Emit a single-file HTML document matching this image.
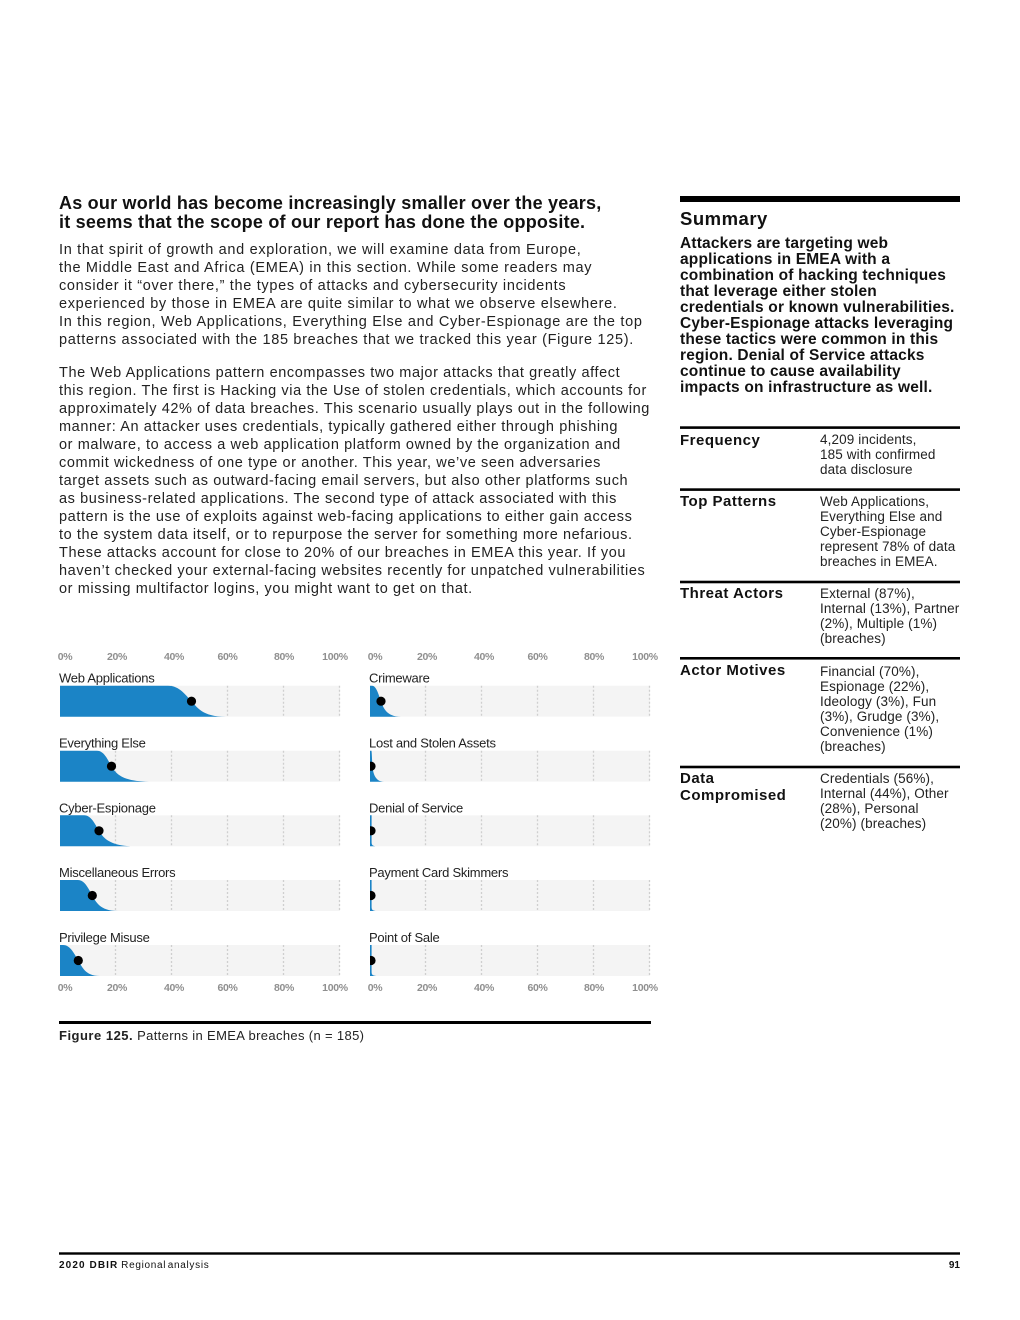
<!DOCTYPE html>
<html>
<head>
<meta charset="utf-8">
<style>
  html,body{margin:0;padding:0;background:#fff;}
  #page{position:relative;width:1020px;height:1320px;overflow:hidden;background:#fff;font-family:"Liberation Sans",Arial,sans-serif;color:#1d1d1b;}
  .abs{position:absolute;white-space:nowrap;}
  .h1{left:59px;top:193.7px;font-size:18px;line-height:19px;font-weight:bold;letter-spacing:0.22px;color:#111;}
  .body{left:59px;font-size:14.5px;line-height:18px;letter-spacing:0.68px;color:#222;}
  .sumt{left:680px;top:208.6px;font-size:18.5px;line-height:20px;font-weight:bold;letter-spacing:0.5px;color:#111;}
  .sumb{left:680px;top:235.5px;font-size:15.5px;line-height:16px;font-weight:bold;letter-spacing:0.18px;color:#111;}
  .tl{left:680px;font-size:15px;line-height:16.5px;font-weight:bold;letter-spacing:0.5px;color:#111;}
  .tv{left:820px;font-size:13.5px;line-height:15px;letter-spacing:0.12px;color:#222;}
  .cap{left:59px;top:1027.5px;font-size:13px;line-height:16px;letter-spacing:0.35px;color:#222;}
  .foot{top:1259.5px;font-size:10px;line-height:12px;color:#111;}
</style>
</head>
<body>
<div id="page">

<div class="abs h1">As our world has become increasingly smaller over the years,<br>it seems that the scope of our report has done the opposite.</div>

<div class="abs body" style="top:241px;">In that spirit of growth and exploration, we will examine data from Europe,<br>the Middle East and Africa (EMEA) in this section. While some readers may<br>consider it “over there,” the types of attacks and cybersecurity incidents<br>experienced by those in EMEA are quite similar to what we observe elsewhere.<br>In this region, Web Applications, Everything Else and Cyber-Espionage are the top<br>patterns associated with the 185 breaches that we tracked this year (Figure 125).</div>

<div class="abs body" style="top:363.5px;letter-spacing:0.6px;">The Web Applications pattern encompasses two major attacks that greatly affect<br>this region. The first is Hacking via the Use of stolen credentials, which accounts for<br>approximately 42% of data breaches. This scenario usually plays out in the following<br>manner: An attacker uses credentials, typically gathered either through phishing<br>or malware, to access a web application platform owned by the organization and<br>commit wickedness of one type or another. This year, we’ve seen adversaries<br>target assets such as outward-facing email servers, but also other platforms such<br>as business-related applications. The second type of attack associated with this<br>pattern is the use of exploits against web-facing applications to either gain access<br>to the system data itself, or to repurpose the server for something more nefarious.<br>These attacks account for close to 20% of our breaches in EMEA this year. If you<br>haven’t checked your external-facing websites recently for unpatched vulnerabilities<br>or missing multifactor logins, you might want to get on that.</div>

<div class="abs sumt">Summary</div>
<div class="abs sumb">Attackers are targeting web<br>applications in EMEA with a<br>combination of hacking techniques<br>that leverage either stolen<br>credentials or known vulnerabilities.<br>Cyber-Espionage attacks leveraging<br>these tactics were common in this<br>region. Denial of Service attacks<br>continue to cause availability<br>impacts on infrastructure as well.</div>

<div class="abs tl" style="top:432.5px;">Frequency</div>
<div class="abs tv" style="top:432px;">4,209 incidents,<br>185 with confirmed<br>data disclosure</div>

<div class="abs tl" style="top:494.1px;">Top Patterns</div>
<div class="abs tv" style="top:494.3px;">Web Applications,<br>Everything Else and<br>Cyber-Espionage<br>represent 78% of data<br>breaches in EMEA.</div>

<div class="abs tl" style="top:586.3px;">Threat Actors</div>
<div class="abs tv" style="top:585.8px;">External (87%),<br>Internal (13%), Partner<br>(2%), Multiple (1%)<br>(breaches)</div>

<div class="abs tl" style="top:663.3px;">Actor Motives</div>
<div class="abs tv" style="top:664px;">Financial (70%),<br>Espionage (22%),<br>Ideology (3%), Fun<br>(3%), Grudge (3%),<br>Convenience (1%)<br>(breaches)</div>

<div class="abs tl" style="top:771.3px;">Data<br>Compromised</div>
<div class="abs tv" style="top:771px;">Credentials (56%),<br>Internal (44%), Other<br>(28%), Personal<br>(20%) (breaches)</div>

<div class="abs cap"><b style="letter-spacing:0.5px;">Figure 125.</b> Patterns in EMEA breaches (n = 185)</div>

<div class="abs foot" style="left:59px;"><b style="letter-spacing:1.1px;">2020 DBIR</b> <span style="letter-spacing:0.7px;word-spacing:-2px;">Regional analysis</span></div>
<div class="abs foot" style="right:60px;font-weight:bold;">91</div>

<svg width="1020" height="1320" style="position:absolute;left:0;top:0;" xmlns="http://www.w3.org/2000/svg">
  <defs>
    <clipPath id="cr"><rect x="370" y="600" width="300" height="420"/></clipPath>
  </defs>

  <!-- rules -->
  <rect x="680" y="196" width="280" height="6" fill="#000"/>
  <rect x="680" y="426.3" width="280" height="2.6" fill="#000"/>
  <rect x="680" y="488.3" width="280" height="2.6" fill="#000"/>
  <rect x="680" y="580.7" width="280" height="2.6" fill="#000"/>
  <rect x="680" y="657" width="280" height="2.6" fill="#000"/>
  <rect x="680" y="765.7" width="280" height="2.6" fill="#000"/>
  <rect x="59" y="1021" width="592" height="3" fill="#000"/>
  <rect x="59" y="1252.3" width="901" height="2.4" fill="#000"/>

  <!-- axis labels -->
  <g font-family="Liberation Sans, Arial, sans-serif" font-size="10.5" font-weight="bold" fill="#8f8f8f" text-anchor="middle" letter-spacing="-0.3">
    <text x="65" y="660">0%</text><text x="117" y="660">20%</text><text x="174" y="660">40%</text><text x="227.5" y="660">60%</text><text x="284" y="660">80%</text><text x="335" y="660">100%</text>
    <text x="375" y="660">0%</text><text x="427" y="660">20%</text><text x="484" y="660">40%</text><text x="537.5" y="660">60%</text><text x="594" y="660">80%</text><text x="645" y="660">100%</text>
    <text x="65" y="991">0%</text><text x="117" y="991">20%</text><text x="174" y="991">40%</text><text x="227.5" y="991">60%</text><text x="284" y="991">80%</text><text x="335" y="991">100%</text>
    <text x="375" y="991">0%</text><text x="427" y="991">20%</text><text x="484" y="991">40%</text><text x="537.5" y="991">60%</text><text x="594" y="991">80%</text><text x="645" y="991">100%</text>
  </g>

  <!-- row labels -->
  <g font-family="Liberation Sans, Arial, sans-serif" font-size="13" fill="#222" letter-spacing="-0.25">
    <text x="59" y="682.7">Web Applications</text>
    <text x="59" y="747.5">Everything Else</text>
    <text x="59" y="812.3">Cyber-Espionage</text>
    <text x="59" y="877.2">Miscellaneous Errors</text>
    <text x="59" y="942">Privilege Misuse</text>
    <text x="369" y="682.7">Crimeware</text>
    <text x="369" y="747.5">Lost and Stolen Assets</text>
    <text x="369" y="812.3">Denial of Service</text>
    <text x="369" y="877.2">Payment Card Skimmers</text>
    <text x="369" y="942">Point of Sale</text>
  </g>

  <!-- LEFT CHART -->
  <g transform="translate(0,685.7)">
    <rect x="60" y="0" width="280" height="31" fill="#f4f4f4"/>
    <g stroke="#cfcfcf" stroke-width="1.3" stroke-dasharray="2 2"><line x1="115.5" y1="0" x2="115.5" y2="31"/><line x1="171.5" y1="0" x2="171.5" y2="31"/><line x1="227.5" y1="0" x2="227.5" y2="31"/><line x1="283.5" y1="0" x2="283.5" y2="31"/><line x1="339.5" y1="0" x2="339.5" y2="31"/></g>
    <path d="M60,0 H168 C179.75,0 185.6,9.5 191.5,15.5 C197.4,21.5 201.9,31 226,31 H60 Z" fill="#1b84c6"/>
    <circle cx="191.5" cy="15.5" r="4.6" fill="#000"/>
  </g>
  <g transform="translate(0,750.7)">
    <rect x="60" y="0" width="280" height="31" fill="#f4f4f4"/>
    <g stroke="#cfcfcf" stroke-width="1.3" stroke-dasharray="2 2"><line x1="115.5" y1="0" x2="115.5" y2="31"/><line x1="171.5" y1="0" x2="171.5" y2="31"/><line x1="227.5" y1="0" x2="227.5" y2="31"/><line x1="283.5" y1="0" x2="283.5" y2="31"/><line x1="339.5" y1="0" x2="339.5" y2="31"/></g>
    <path d="M60,0 H97 C104.25,0 107.9,9.5 111.5,15.5 C115.1,21.5 121,31 149,31 H60 Z" fill="#1b84c6"/>
    <circle cx="111.5" cy="15.5" r="4.6" fill="#000"/>
  </g>
  <g transform="translate(0,815.3)">
    <rect x="60" y="0" width="280" height="31" fill="#f4f4f4"/>
    <g stroke="#cfcfcf" stroke-width="1.3" stroke-dasharray="2 2"><line x1="115.5" y1="0" x2="115.5" y2="31"/><line x1="171.5" y1="0" x2="171.5" y2="31"/><line x1="227.5" y1="0" x2="227.5" y2="31"/><line x1="283.5" y1="0" x2="283.5" y2="31"/><line x1="339.5" y1="0" x2="339.5" y2="31"/></g>
    <path d="M60,0 H84 C91.5,0 95.25,9.5 99,15.5 C102.75,21.5 108.5,31 134,31 H60 Z" fill="#1b84c6"/>
    <circle cx="99" cy="15.5" r="4.6" fill="#000"/>
  </g>
  <g transform="translate(0,880)">
    <rect x="60" y="0" width="280" height="31" fill="#f4f4f4"/>
    <g stroke="#cfcfcf" stroke-width="1.3" stroke-dasharray="2 2"><line x1="115.5" y1="0" x2="115.5" y2="31"/><line x1="171.5" y1="0" x2="171.5" y2="31"/><line x1="227.5" y1="0" x2="227.5" y2="31"/><line x1="283.5" y1="0" x2="283.5" y2="31"/><line x1="339.5" y1="0" x2="339.5" y2="31"/></g>
    <path d="M60,0 H78 C85.15,0 88.7,9.5 92.3,15.5 C95.9,21.5 99.5,31 118,31 H60 Z" fill="#1b84c6"/>
    <circle cx="92.3" cy="15.5" r="4.6" fill="#000"/>
  </g>
  <g transform="translate(0,945)">
    <rect x="60" y="0" width="280" height="31" fill="#f4f4f4"/>
    <g stroke="#cfcfcf" stroke-width="1.3" stroke-dasharray="2 2"><line x1="115.5" y1="0" x2="115.5" y2="31"/><line x1="171.5" y1="0" x2="171.5" y2="31"/><line x1="227.5" y1="0" x2="227.5" y2="31"/><line x1="283.5" y1="0" x2="283.5" y2="31"/><line x1="339.5" y1="0" x2="339.5" y2="31"/></g>
    <path d="M60,0 H63 C70.65,0 74.5,9.5 78.3,15.5 C82.1,21.5 84.8,31 100,31 H60 Z" fill="#1b84c6"/>
    <circle cx="78.3" cy="15.5" r="4.6" fill="#000"/>
  </g>

  <!-- RIGHT CHART -->
  <g clip-path="url(#cr)">
  <g transform="translate(0,685.7)">
    <rect x="370" y="0" width="280" height="31" fill="#f4f4f4"/>
    <g stroke="#cfcfcf" stroke-width="1.3" stroke-dasharray="2 2"><line x1="425.5" y1="0" x2="425.5" y2="31"/><line x1="481.5" y1="0" x2="481.5" y2="31"/><line x1="537.5" y1="0" x2="537.5" y2="31"/><line x1="593.5" y1="0" x2="593.5" y2="31"/><line x1="649.5" y1="0" x2="649.5" y2="31"/></g>
    <path d="M370,0 H372 C376.5,0 378.75,9.5 381,15.5 C383.25,21.5 386,31 401,31 H370 Z" fill="#1b84c6"/>
    <circle cx="381" cy="15.5" r="4.6" fill="#000"/>
  </g>
  <g transform="translate(0,750.7)">
    <rect x="370" y="0" width="280" height="31" fill="#f4f4f4"/>
    <g stroke="#cfcfcf" stroke-width="1.3" stroke-dasharray="2 2"><line x1="425.5" y1="0" x2="425.5" y2="31"/><line x1="481.5" y1="0" x2="481.5" y2="31"/><line x1="537.5" y1="0" x2="537.5" y2="31"/><line x1="593.5" y1="0" x2="593.5" y2="31"/><line x1="649.5" y1="0" x2="649.5" y2="31"/></g>
    <path d="M370,0 H371.4 C371.8,0 372,9.5 372.5,15.5 C373,22 375,31 384,31 H370 Z" fill="#1b84c6"/>
    <circle cx="371" cy="15.5" r="4.6" fill="#000"/>
  </g>
  <g transform="translate(0,815.3)">
    <rect x="370" y="0" width="280" height="31" fill="#f4f4f4"/>
    <g stroke="#cfcfcf" stroke-width="1.3" stroke-dasharray="2 2"><line x1="425.5" y1="0" x2="425.5" y2="31"/><line x1="481.5" y1="0" x2="481.5" y2="31"/><line x1="537.5" y1="0" x2="537.5" y2="31"/><line x1="593.5" y1="0" x2="593.5" y2="31"/><line x1="649.5" y1="0" x2="649.5" y2="31"/></g>
    <path d="M370,0 H371.6 V27 C371.6,30 373,31 376.5,31 H370 Z" fill="#1b84c6"/>
    <circle cx="371" cy="15.5" r="4.6" fill="#000"/>
  </g>
  <g transform="translate(0,880)">
    <rect x="370" y="0" width="280" height="31" fill="#f4f4f4"/>
    <g stroke="#cfcfcf" stroke-width="1.3" stroke-dasharray="2 2"><line x1="425.5" y1="0" x2="425.5" y2="31"/><line x1="481.5" y1="0" x2="481.5" y2="31"/><line x1="537.5" y1="0" x2="537.5" y2="31"/><line x1="593.5" y1="0" x2="593.5" y2="31"/><line x1="649.5" y1="0" x2="649.5" y2="31"/></g>
    <path d="M370,0 H371.6 V27 C371.6,30 373,31 377,31 H370 Z" fill="#1b84c6"/>
    <circle cx="371" cy="15.5" r="4.6" fill="#000"/>
  </g>
  <g transform="translate(0,945)">
    <rect x="370" y="0" width="280" height="31" fill="#f4f4f4"/>
    <g stroke="#cfcfcf" stroke-width="1.3" stroke-dasharray="2 2"><line x1="425.5" y1="0" x2="425.5" y2="31"/><line x1="481.5" y1="0" x2="481.5" y2="31"/><line x1="537.5" y1="0" x2="537.5" y2="31"/><line x1="593.5" y1="0" x2="593.5" y2="31"/><line x1="649.5" y1="0" x2="649.5" y2="31"/></g>
    <path d="M370,0 H371.6 V27 C371.6,30 373,31 378,31 H370 Z" fill="#1b84c6"/>
    <circle cx="371" cy="15.5" r="4.6" fill="#000"/>
  </g>
  </g>
</svg>

</div>
</body>
</html>
